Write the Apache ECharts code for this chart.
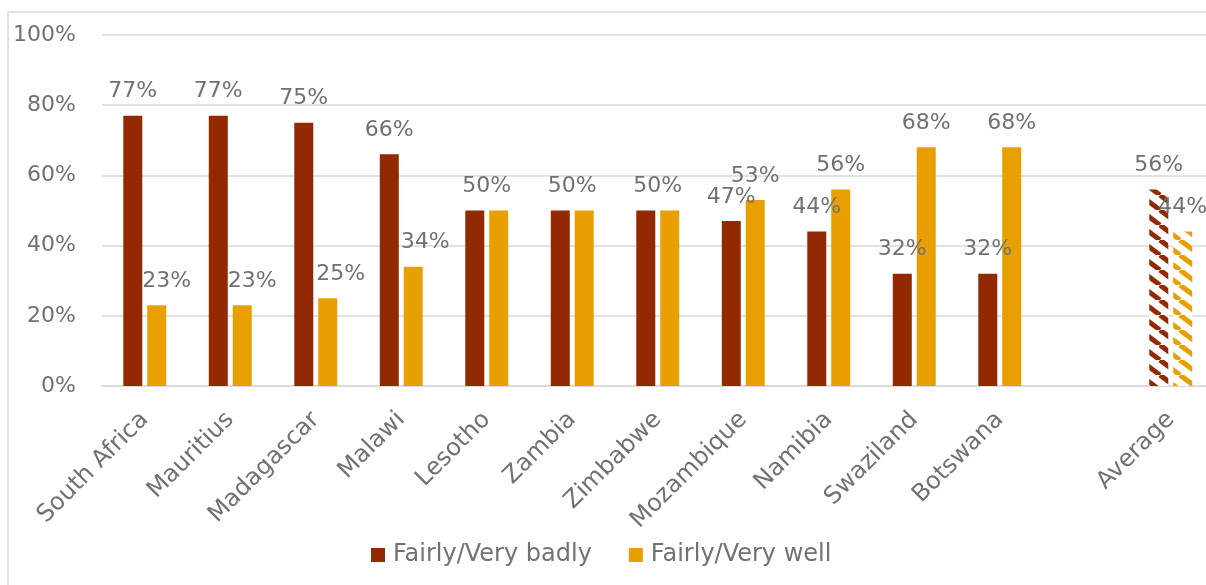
<!DOCTYPE html>
<html>
<head>
<meta charset="utf-8">
<script src="https://cdn.jsdelivr.net/npm/echarts@6/dist/echarts.min.js"></script>
<style>
html,body{margin:0;padding:0;background:#fff;}
#chart{width:1206px;height:585px;}
</style>
</head>
<body>
<div id="chart"></div>
<script>
var categories = ['South Africa','Mauritius','Madagascar','Malawi','Lesotho','Zambia','Zimbabwe','Mozambique','Namibia','Swaziland','Botswana','','Average'];
var badly = [77,77,75,66,50,50,50,47,44,32,32,null,56];
var well  = [23,23,25,34,50,50,50,53,56,68,68,null,44];
var yTicks = [0,20,40,60,80,100];
var seriesNames = ['Fairly/Very badly','Fairly/Very well'];

var DARK = '#922900', GOLD = '#E8A000', GRAY = '#737070';
var FONT = 'DejaVu Sans';
var FS = 22;
// horizontal label nudges (style only) for the "well" labels of the first four countries
var wellLabelNudge = {0:10, 1:10, 2:13, 3:12};

function stripe(color){
  var c = document.createElement('canvas');
  var W = 20, H = 15;
  c.width = W; c.height = H;
  var g = c.getContext('2d');
  g.fillStyle = '#fff'; g.fillRect(0,0,W,H);
  g.strokeStyle = color; g.lineWidth = 5;
  for (var k=-1;k<=1;k++){
    g.beginPath(); g.moveTo(k*W,0); g.lineTo(k*W+W,H); g.stroke();
  }
  return {image: c, repeat: 'repeat'};
}

// When both values of a category are equal, a single label sits centred over the pair.
function build(vals, other, color, isFirst){
  return vals.map(function(v, i){
    if (v === null) return '-';
    var item = {value: v};
    if (categories[i] === 'Average') item.itemStyle = {color: stripe(color)};
    if (v === other[i]) {
      item.label = isFirst ? {offset:[12,0]} : {show:false};
    } else if (!isFirst && wellLabelNudge[i]) {
      item.label = {offset:[wellLabelNudge[i],0]};
    }
    return item;
  });
}

var chart = echarts.init(document.getElementById('chart'), null, {renderer:'canvas'});
var labelCfg = {show:true, position:'top', distance:13, color:GRAY, fontFamily:FONT, fontSize:FS, formatter:'{c}%'};
chart.setOption({
  animation:false,
  backgroundColor:'#fff',
  graphic:[{type:'rect', shape:{x:8,y:12,width:1220,height:600}, style:{fill:'none', stroke:'#d9d9d9', lineWidth:1.5}, silent:true, z:-1}],
  grid:{left:102, top:35, width:1111.5, height:351, containLabel:false, outerBoundsMode:'none'},
  legend:{
    data:seriesNames, top:538, left:366, icon:'rect', itemWidth:14, itemHeight:14, itemGap:37,
    textStyle:{color:GRAY, fontFamily:FONT, fontSize:24, padding:[0,0,0,3]}
  },
  xAxis:{
    type:'category', data:categories,
    axisLine:{lineStyle:{color:'#d9d9d9', width:1.5}},
    axisTick:{show:false},
    axisLabel:{rotate:45, interval:0, color:GRAY, fontFamily:FONT, fontSize:24, margin:30}
  },
  yAxis:{
    type:'value', min:yTicks[0], max:yTicks[yTicks.length-1], interval:20,
    axisLabel:{formatter:'{value}%', color:GRAY, fontFamily:FONT, fontSize:FS, margin:26},
    axisLine:{show:false}, axisTick:{show:false},
    splitLine:{lineStyle:{color:'#d9d9d9', width:1.5}}
  },
  series:[
    {name:seriesNames[0], type:'bar', data:build(badly, well, DARK, true), itemStyle:{color:DARK}, barWidth:19, barGap:'26%', label:labelCfg},
    {name:seriesNames[1], type:'bar', data:build(well, badly, GOLD, false), itemStyle:{color:GOLD}, barWidth:19, label:labelCfg}
  ]
});
</script>
</body>
</html>
